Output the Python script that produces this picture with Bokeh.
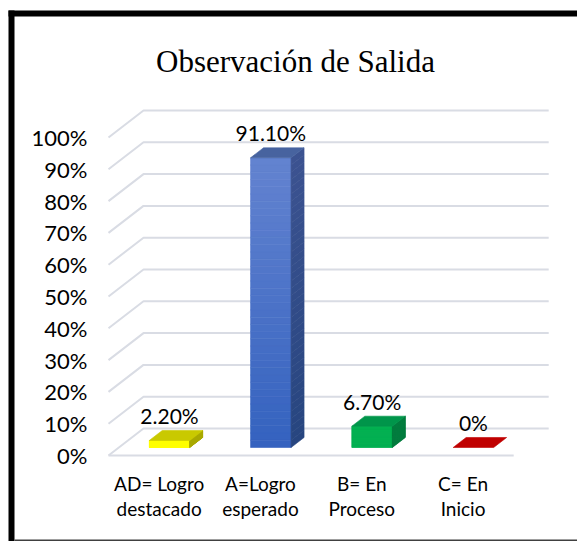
from bokeh.plotting import figure
from bokeh.models import Range1d, ColumnDataSource
from bokeh.core.properties import value
from bokeh.embed import file_html
from bokeh.resources import INLINE

# ---- data ----
title_text = "Observación de Salida"
categories = ["AD= Logro\ndestacado", "A=Logro\nesperado", "B= En\nProceso", "C= En\nInicio"]
percentages = [2.2, 91.1, 6.7, 0.0]
value_labels = ["2.20%", "91.10%", "6.70%", "0%"]
y_ticks = [0, 10, 20, 30, 40, 50, 60, 70, 80, 90, 100]
y_tick_labels = ["0%", "10%", "20%", "30%", "40%", "50%", "60%", "70%", "80%", "90%", "100%"]

# ---- styles ----
front_top = ["#ffff00", "#6383d0", "#00b050", "#c00000"]
front_bot = ["#ffff00", "#3462bf", "#00b050", "#c00000"]
top_col = ["#c9c900", "#47639f", "#00954a", "#c00000"]
side_top = ["#a9a900", "#3c5391", "#007a3c", "#900000"]
side_bot = ["#a9a900", "#27457f", "#007a3c", "#900000"]
grid_col = "#d9dce4"
FONT = "Lato"

# geometry (pixel scale of the page -> data units)
X0_PX, X_STEP = 108.0, 101.3   # floor front-left corner, px per category
Y0_PX, Y_STEP = 455.0, 3.18    # floor front line, px per percent
def xd(px):
    return (px - X0_PX) / X_STEP
def yd(py):
    return (Y0_PX - py) / Y_STEP

DX = 35.0 / X_STEP   # depth offset in x data units
DY = 27.0 / Y_STEP   # depth offset in y data units
F0, F1 = 0.296, 0.667  # bar front / back depth fractions
BW = 0.40

W, H = 577, 541
p = figure(width=W, height=H, x_range=Range1d(xd(0), xd(W)),
           y_range=Range1d(yd(H), yd(0)), output_backend="svg",
           toolbar_location=None, x_axis_type=None, y_axis_type=None,
           min_border=0, outline_line_color=None)
p.min_border_left = p.min_border_right = p.min_border_top = p.min_border_bottom = 0
p.background_fill_color = "white"
p.border_fill_color = "white"

n = len(categories)
# ---- walls / gridlines ----
gx, gy = [], []
for t in y_ticks:
    gx.append([0, DX, n + DX]); gy.append([t, t + DY, t + DY])
gx.append([0, n]); gy.append([0, 0])
p.multi_line(gx, gy, line_color=grid_col, line_width=2)

# ---- bars ----
def lerp(c1, c2, f):
    a = [int(c1[i:i+2], 16) for i in (1, 3, 5)]
    b = [int(c2[i:i+2], 16) for i in (1, 3, 5)]
    return "#%02x%02x%02x" % tuple(round(a[k] + (b[k] - a[k]) * f) for k in range(3))

NS = 40
for i, v in enumerate(percentages):
    x0 = i + 0.5 - BW / 2 + DX * F0
    x1 = x0 + BW
    y0 = DY * F0
    y1 = v + y0
    ddx, ddy = DX * (F1 - F0), DY * (F1 - F0)
    if v > 0:
        lefts, rights, tops, bots, cols = [], [], [], [], []
        sx, sy, scol = [], [], []
        for k in range(NS):
            fa, fb = k / NS, (k + 1) / NS
            ya = y1 - (y1 - y0) * fa
            yb = y1 - (y1 - y0) * fb
            lefts.append(x0); rights.append(x1); tops.append(ya); bots.append(yb)
            cols.append(lerp(front_top[i], front_bot[i], (fa + fb) / 2))
            sx.append([x1, x1 + ddx, x1 + ddx, x1])
            sy.append([ya, ya + ddy, yb + ddy, yb])
            scol.append(lerp(side_top[i], side_bot[i], (fa + fb) / 2))
        p.quad(left=lefts, right=rights, top=tops, bottom=bots, fill_color=cols,
               line_color=cols, line_width=0.6)
        p.patches(sx, sy, fill_color=scol, line_color=scol, line_width=0.6)
    p.patch([x0, x1, x1 + ddx, x0 + ddx], [y1, y1, y1 + ddy, y1 + ddy],
            fill_color=top_col[i], line_color=top_col[i], line_width=0.6)

# ---- value labels ----
lab_src = ColumnDataSource(dict(
    x=[i + 0.5 + DX * F0 for i in range(n)],
    y=[v + DY * F0 + 25.0 / Y_STEP for v in percentages],
    t=value_labels))
p.text("x", "y", text="t", source=lab_src, text_font=value(FONT),
       text_font_size=value("21px"), text_align="center", text_baseline="middle",
       text_color="#000000")

# ---- y tick labels ----
p.text([xd(87)] * len(y_ticks), y_ticks, text=y_tick_labels, text_font=value(FONT),
       text_font_size=value("22px"), text_align="right", text_baseline="middle",
       text_color="#000000")

# ---- category labels ----
line1 = [c.split("\n")[0] for c in categories]
line2 = [c.split("\n")[1] for c in categories]
cx = [i + 0.5 for i in range(n)]
p.text(cx, [yd(483)] * n, text=line1, text_font=value(FONT), text_font_size=value("19px"),
       text_align="center", text_baseline="middle", text_color="#000000")
p.text(cx, [yd(508)] * n, text=line2, text_font=value(FONT), text_font_size=value("19px"),
       text_align="center", text_baseline="middle", text_color="#000000")

# ---- title ----
p.text([xd(295)], [yd(61)], text=[title_text], text_font=value("Liberation Serif"),
       text_font_size=value("31px"), text_align="center", text_baseline="alphabetic",
       text_color="#000000")

# ---- frame border ----
p.segment(x0=[xd(11), xd(8)], y0=[yd(10), yd(13)], x1=[xd(11), xd(600)], y1=[yd(545), yd(13)],
          line_color="#000000", line_width=6, line_cap="butt")
p.segment(x0=[xd(14)], y0=[yd(540)], x1=[xd(600)], y1=[yd(540)],
          line_color="#404040", line_width=2)

open("out.html", "w").write(file_html(p, INLINE))
